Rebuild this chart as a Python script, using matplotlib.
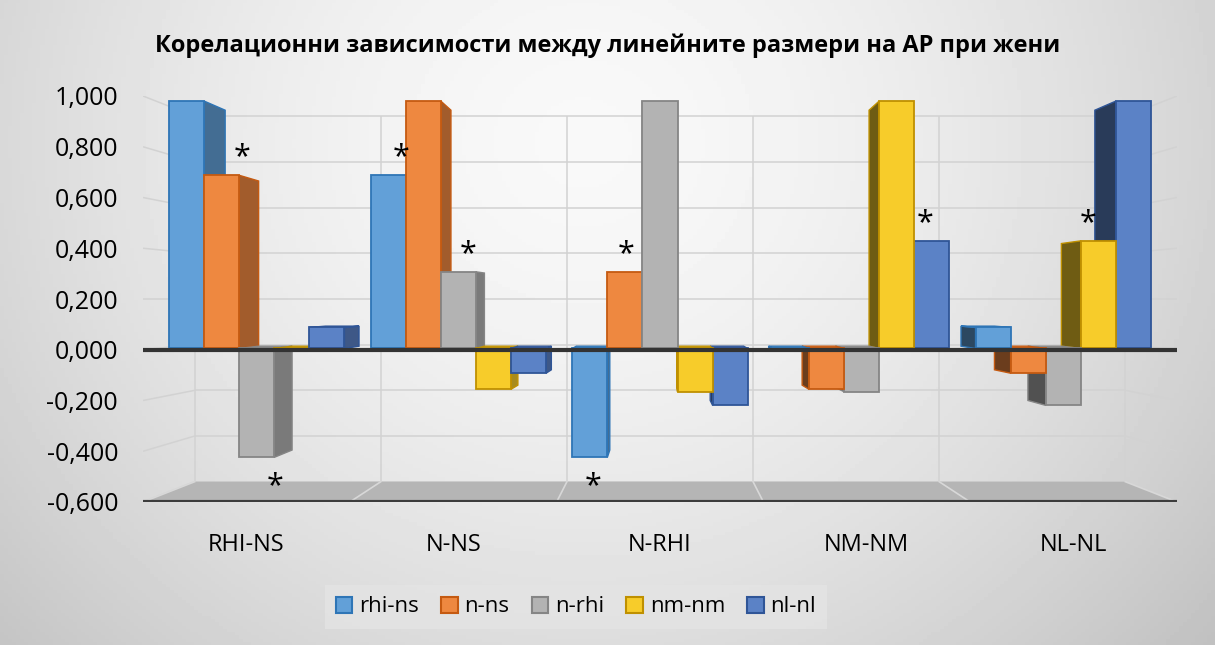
#!/usr/bin/env python3
"""Correlation chart (3D-style clustered columns) drawn with plain matplotlib."""
import numpy as np
import matplotlib
matplotlib.use("Agg")
import matplotlib.pyplot as plt
from matplotlib.patches import Polygon, Patch
from matplotlib.transforms import Affine2D
from matplotlib.colors import to_rgb

plt.rcParams["font.family"] = ["Open Sans", "DejaVu Sans"]

title = "Корелационни зависимости между линейните размери на АР при жени"
categories = ["RHI-NS", "N-NS", "N-RHI", "NM-NM", "NL-NL"]
series = ["rhi-ns", "n-ns", "n-rhi", "nm-nm", "nl-nl"]
rhi_ns = [1.000, 0.700, -0.440, -0.010, 0.085]
n_ns = [0.700, 1.000, 0.310, -0.165, -0.100]
n_rhi = [-0.440, 0.310, 1.000, -0.175, -0.230]
nm_nm = [-0.010, -0.165, -0.175, 1.000, 0.435]
nl_nl = [0.085, -0.100, -0.230, 0.435, 1.000]
# (category index, series index) of values marked with "*"
stars = [(0, 1), (0, 2), (1, 0), (1, 2), (2, 0), (2, 1), (3, 4), (4, 3)]
yticks = [-0.6, -0.4, -0.2, 0.0, 0.2, 0.4, 0.6, 0.8, 1.0]

values = [rhi_ns, n_ns, n_rhi, nm_nm, nl_nl]
faces = ["#62a0d8", "#ee8840", "#b3b3b3", "#f7cc2a", "#5b82c6"]
edges = ["#2e75b6", "#c55a11", "#858585", "#bf9000", "#2f5597"]

# fake perspective: everything shrinks toward a vanishing point
VX, VY = 2.5, 0.2          # data coords
S_FRONT, S_BACK, S_WALL = 0.975, 0.93, 0.9
BAR_W, GAP = 0.174, 0.065
YMIN, YMAX = -0.6, 1.0
NCAT = len(categories)


def P(x, y, s):
    return (VX + s * (x - VX), VY + s * (y - VY))


def shade(c, f):
    r = np.array(to_rgb(c))
    return tuple(np.clip(r * f, 0, 1)) if f <= 1 else tuple(r + (1 - r) * (f - 1))


fig = plt.figure(figsize=(12.15, 6.45), dpi=100)

# background gradient
bg = fig.add_axes([0, 0, 1, 1], zorder=-10)
gx, gy = np.meshgrid(np.linspace(0, 1, 300), np.linspace(0, 1, 200))
d = np.sqrt(((gx - 0.48) / 0.62) ** 2 + ((gy - 0.78) / 1.1) ** 2)
bg.imshow(0.975 - 0.19 * d ** 1.6, cmap="gray", vmin=0, vmax=1,
          extent=[0, 1, 0, 1], aspect="auto", origin="lower")
bg.axis("off")

ax = fig.add_axes([143 / 1215, 1 - 502 / 645, 1034 / 1215, 406 / 645])
ax.set_xlim(0, NCAT)
ax.set_ylim(YMIN, YMAX)
ax.patch.set_alpha(0)
for sp in ax.spines.values():
    sp.set_visible(False)

grid_kw = dict(color="#d2d2d2", lw=1.1, zorder=0.5, solid_capstyle="butt")
# back wall
for yv in yticks:
    (x0, y0), (x1, y1) = P(0, yv, S_WALL), P(NCAT, yv, S_WALL)
    ax.plot([x0, x1], [y0, y1], **grid_kw)
    for xe in (0, NCAT):     # side walls
        a, b = P(xe, yv, 1.0), P(xe, yv, S_WALL)
        ax.plot([a[0], b[0]], [a[1], b[1]], **grid_kw)
for i in range(NCAT + 1):
    a, b = P(i, YMIN, S_WALL), P(i, YMAX, S_WALL)
    ax.plot([a[0], b[0]], [a[1], b[1]], **grid_kw)

# floor
floor = [P(0, YMIN, 1), P(NCAT, YMIN, 1), P(NCAT, YMIN, S_WALL), P(0, YMIN, S_WALL)]
ax.add_patch(Polygon(floor, closed=True, fc="#b5b5b5", ec="none", zorder=0.8))
for i in range(NCAT + 1):
    a, b = P(i, YMIN, 1), P(i, YMIN, S_WALL)
    ax.plot([a[0], b[0]], [a[1], b[1]], color="#d8d8d8", lw=1.2, zorder=0.9)
ax.plot([0, NCAT], [YMIN, YMIN], color="#3c3c3c", lw=3, zorder=1, solid_capstyle="butt")

# bars
front = Affine2D().translate(-VX, -VY).scale(S_FRONT).translate(VX, VY) + ax.transData
xs = np.arange(NCAT)
for j, (vals, fc, ec) in enumerate(zip(values, faces, edges)):
    left = xs + GAP + j * BAR_W
    rects = ax.bar(left, vals, BAR_W, align="edge", color=fc, edgecolor=ec,
                   linewidth=1.3, transform=front)
    for i, r in enumerate(rects):
        x0, x1 = left[i], left[i] + BAR_W
        y0, y1 = min(0, vals[i]), max(0, vals[i])
        xc = (x0 + x1) / 2
        z = 2 + (3 - abs(xc - VX)) * 0.1
        r.set_zorder(z)
        xe = x1 if xc < VX else x0
        sf = 0.68 if xc < VX else 0.45
        side = [P(xe, y0, S_FRONT), P(xe, y1, S_FRONT), P(xe, y1, S_BACK), P(xe, y0, S_BACK)]
        ax.add_patch(Polygon(side, closed=True, fc=shade(fc, sf), ec=ec, lw=1.0, zorder=z - 0.01))
        if y1 < VY:
            top = [P(x0, y1, S_FRONT), P(x1, y1, S_FRONT), P(x1, y1, S_BACK), P(x0, y1, S_BACK)]
            ax.add_patch(Polygon(top, closed=True, fc=shade(fc, 1.15), ec=ec, lw=1.0, zorder=z - 0.005))

# zero line in front
ax.plot([0, NCAT], [0, 0], color="#333333", lw=3, zorder=5, solid_capstyle="butt")

# significance stars
for ci, sj in stars:
    v = values[sj][ci]
    xc = ci + GAP + (sj + 0.5) * BAR_W
    px = (P(xc, v, S_BACK)[0] + P(xc, v, S_FRONT)[0]) / 2 if xc > VX else P(xc, v, S_BACK)[0]
    _, py = P(xc, v, S_FRONT)
    ax.annotate("*", xy=(px, py), xytext=(0, 13 if v > 0 else -21), textcoords="offset points",
                ha="center", va="center", fontsize=22, zorder=6)

ax.set_yticks(yticks)
ax.set_yticklabels([f"{v:.3f}".replace(".", ",") for v in yticks], fontsize=18)
ax.set_xticks(xs + 0.5)
ax.set_xticklabels(categories, fontsize=17)
ax.tick_params(axis="y", length=0, pad=18)
ax.tick_params(axis="x", length=0, pad=22)

fig.text(0.500, 1 - 46 / 645, title, ha="center", va="center", fontsize=17, fontweight="bold")

handles = [Patch(fc=fc, ec=ec, lw=1.5, label=s) for s, fc, ec in zip(series, faces, edges)]
leg = fig.legend(handles=handles, loc="center", bbox_to_anchor=(576 / 1215, 1 - 607 / 645),
                 ncol=5, fontsize=16, frameon=True, fancybox=False, handlelength=0.75,
                 handleheight=0.75, handletextpad=0.3, columnspacing=1.0, borderpad=0.5)
leg.get_frame().set_facecolor("#e4e4e4")
leg.get_frame().set_edgecolor("none")

fig.savefig("out.png", dpi=100)
